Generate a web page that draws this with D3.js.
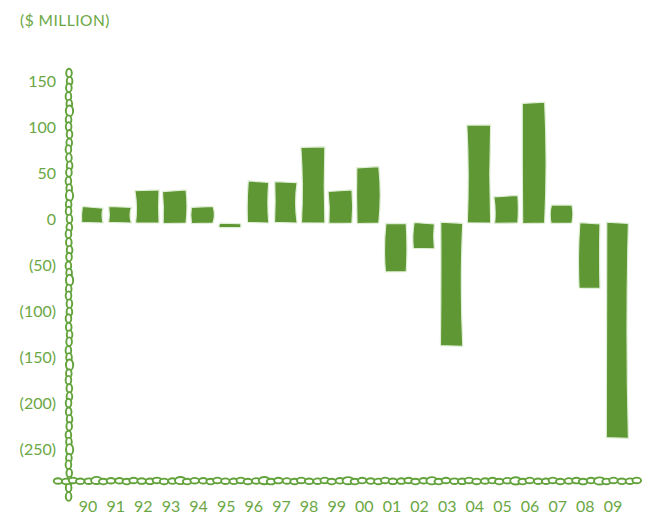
<!DOCTYPE html>
<html>
<head>
<meta charset="utf-8">
<script src="https://cdn.jsdelivr.net/npm/d3@7"></script>
<style>
  body { margin: 0; background: #fff; }
  text { font-family: Lato, "Open Sans", sans-serif; fill: #6aa744; }
</style>
</head>
<body>
<div id="chart"></div>
<script>
// fiscal years and yearly result ($ million)
const years = ["90","91","92","93","94","95","96","97","98","99",
               "00","01","02","03","04","05","06","07","08","09"];
const values = [17, 17, 35, 35, 18, -5, 45, 44, 82, 35,
                61, -53, -28, -134, 106, 29, 131, 20, -71, -234];
const yTicks = [150, 100, 50, 0, -50, -100, -150, -200, -250];

let width = 662, height = 518;

let svg = d3.select('#chart')
    .append('svg')
    .attr('width', width)
    .attr('height', height);

let barColor = '#5e9733';
let lineColor = '#62a23a';

let x = d3.scaleBand()
    .domain(years)
    .range([81, 628])
    .paddingInner(0.2)
    .paddingOuter(0.0);

let y = d3.scaleLinear()
    .domain([-250, 150])
    .range([453, 85]);

// title
svg.append('text')
    .attr('x', 20)
    .attr('y', 26)
    .style('font-size', '15.5px')
    .style('letter-spacing', '0.5px')
    .text('($ MILLION)');

// wobble helper: small fixed offsets so the bars look hand drawn
let wob = function(i, k) { return Math.sin(i * 7.3 + k * 2.1) * 1.6; };

svg.selectAll('.bar')
    .data(values)
    .enter()
    .append('path')
    .attr('class', 'bar')
    .attr('d', function(d, i) {
        let x0 = x(years[i]), x1 = x0 + x.bandwidth();
        let yTop = y(Math.max(0, d)), yBot = y(Math.min(0, d));
        let p = d3.path();
        p.moveTo(x0 + wob(i, 1), yTop + wob(i, 2) * 0.6);
        p.lineTo(x1 + wob(i, 3) * 0.5, yTop + wob(i, 4) * 0.6);
        p.quadraticCurveTo(x1 + wob(i, 5) * 1.5, (yTop + yBot) / 2, x1 + wob(i, 6) * 0.5, yBot);
        p.lineTo(x0 + wob(i, 7) * 0.5, yBot + wob(i, 8) * 0.4);
        p.quadraticCurveTo(x0 + wob(i, 9), (yTop + yBot) / 2, x0 + wob(i, 1), yTop + wob(i, 2) * 0.6);
        p.closePath();
        return p.toString();
    })
    .style('fill', barColor)
    .style('stroke', '#dfeed5')
    .style('stroke-width', 1.2);

// chain-link axes
function chain(g, x0, y0, x1, y1, step) {
    let len = Math.hypot(x1 - x0, y1 - y0);
    let n = Math.floor(len / step);
    let ang = Math.atan2(y1 - y0, x1 - x0) * 180 / Math.PI;
    for (let k = 0; k <= n; k++) {
        let t = k / n;
        let cx = x0 + (x1 - x0) * t + Math.sin(k * 1.7) * 0.6;
        let cy = y0 + (y1 - y0) * t + Math.sin(k * 2.3) * 0.6;
        let big = (k % 11 === 5);
        g.append('ellipse')
            .attr('transform', 'translate(' + cx + ',' + cy + ') rotate(' + ang + ')')
            .attr('rx', big ? 5.5 : 4.3)
            .attr('ry', big ? 3.6 : 2.8)
            .style('fill', 'white')
            .style('stroke', lineColor)
            .style('stroke-width', 1.9);
    }
}

let axisG = svg.append('g');
chain(axisG, 69, 73, 69, 496, 7.6);
let hG = svg.append('g');
chain(hG, 58, 481, 637, 481, 7.6);

// y tick labels
svg.append('g')
    .attr('transform', 'translate(56,0)')
    .call(d3.axisLeft(y).tickValues(yTicks).tickSize(0).tickPadding(0)
        .tickFormat(function(d) { return d < 0 ? '(' + (-d) + ')' : d; }))
    .call(function(g) { g.select('.domain').remove(); })
    .selectAll('text')
    .attr('dy', '0.32em')
    .attr('y', -4)
    .style('font-size', '16px')
    .attr('fill', null);

// x tick labels
svg.append('g')
    .attr('transform', 'translate(-4,501)')
    .call(d3.axisBottom(x).tickSize(0).tickPadding(0))
    .call(function(g) { g.select('.domain').remove(); })
    .selectAll('text')
    .style('font-size', '16px')
    .attr('fill', null);
</script>
</body>
</html>
